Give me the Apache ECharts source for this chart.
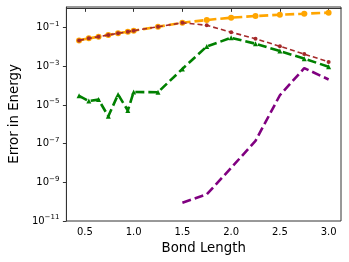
<!DOCTYPE html>
<html><head><meta charset="utf-8">
<script src="https://cdn.jsdelivr.net/npm/echarts@6/dist/echarts.min.js"></script>
<style>html,body{margin:0;padding:0;background:#fff}#c{width:349px;height:262px}</style>
</head><body><div id="c"></div>
<script>
const xMain = [0.44, 0.54, 0.64, 0.74, 0.84, 0.94, 1.0, 1.25, 1.5, 1.75, 2.0, 2.25, 2.5, 2.75, 3.0];
const orangeVals = [0.022, 0.028, 0.034, 0.042, 0.051, 0.062, 0.070, 0.112, 0.18, 0.25, 0.33, 0.40, 0.47, 0.53, 0.60];
const brownVals = [0.022, 0.028, 0.034, 0.042, 0.051, 0.062, 0.070, 0.112, 0.18, 0.133, 0.058, 0.027, 0.0109, 0.0043, 0.0017];
const greenVals = [3.0e-5, 1.6e-5, 1.9e-5, 2.6e-6, 3.5e-5, 5.2e-6, 4.7e-5, 4.6e-5, 7.4e-4, 1.07e-2, 3.0e-2, 1.48e-2, 6.2e-3, 2.5e-3, 9.5e-4];
const xPurple = [1.5, 1.75, 2.0, 2.25, 2.5, 2.75, 3.0];
const purpleVals = [8.9e-11, 2.4e-10, 5.6e-9, 1.4e-7, 3.2e-5, 8.1e-4, 2.1e-4];
const xTicks = [0.5, 1.0, 1.5, 2.0, 2.5, 3.0];
const yTickExps = [-11, -9, -7, -5, -3, -1];

const pts = (xs, ys) => xs.map((x, i) => [x, Math.log10(ys[i])]);
const chart = echarts.init(document.getElementById('c'), null, {renderer: 'canvas'});
const axisCol = '#333';
chart.setOption({
  animation: false,
  grid: {left: 59, right: 8, top: 7, bottom: 41, show: true, borderColor: axisCol, borderWidth: 1, containLabel: false},
  xAxis: {
    type: 'value', min: 0.31, max: 3.127,
    name: 'Bond Length', nameLocation: 'middle', nameGap: 19,
    nameTextStyle: {fontFamily: 'DejaVu Sans', fontSize: 13.3, color: '#000'},
    axisLine: {show: true, lineStyle: {color: axisCol}},
    axisTick: {show: true, inside: false, length: 3.5, lineStyle: {color: axisCol}, customValues: xTicks},
    axisLabel: {customValues: xTicks, margin: 6, fontFamily: 'DejaVu Sans', fontSize: 10, color: '#000', formatter: v => v.toFixed(1)},
    splitLine: {show: false}
  },
  yAxis: {
    type: 'value', min: -11, max: 0.07,
    name: 'Error in Energy', nameLocation: 'middle', nameGap: 40,
    nameTextStyle: {fontFamily: 'DejaVu Sans', fontSize: 13.3, color: '#000'},
    axisLine: {show: true, lineStyle: {color: axisCol}},
    axisTick: {show: true, inside: false, length: 3.5, lineStyle: {color: axisCol}, customValues: yTickExps},
    axisLabel: {
      customValues: yTickExps, margin: 7, color: '#000',
      formatter: v => '{b|10}{s|\u2212' + Math.round(-v) + '}',
      rich: {
        b: {fontFamily: 'DejaVu Sans', fontSize: 10, color: '#000'},
        s: {fontFamily: 'DejaVu Sans', fontSize: 7, color: '#000', padding: [0, 0, 7, 0]}
      }
    },
    splitLine: {show: false}
  },
  series: [
    {type: 'line', data: pts(xMain, orangeVals), symbol: 'circle', symbolSize: 6,
     itemStyle: {color: '#FFA500'}, lineStyle: {color: '#FFA500', width: 2.6, type: [9, 4]}, z: 2},
    {type: 'line', data: pts(xMain, brownVals), symbol: 'circle', symbolSize: 4,
     itemStyle: {color: '#A52A2A'}, lineStyle: {color: '#A52A2A', width: 1.6, type: [5, 3]}, z: 3},
    {type: 'line', data: pts(xMain, greenVals), symbol: 'triangle', symbolSize: 5,
     itemStyle: {color: '#008000'}, lineStyle: {color: '#008000', width: 2.6, type: [9, 4]}, z: 4},
    {type: 'line', data: pts(xPurple, purpleVals), symbol: 'none',
     lineStyle: {color: '#800080', width: 2.6, type: [9, 4]}, z: 5}
  ]
});
</script></body></html>
